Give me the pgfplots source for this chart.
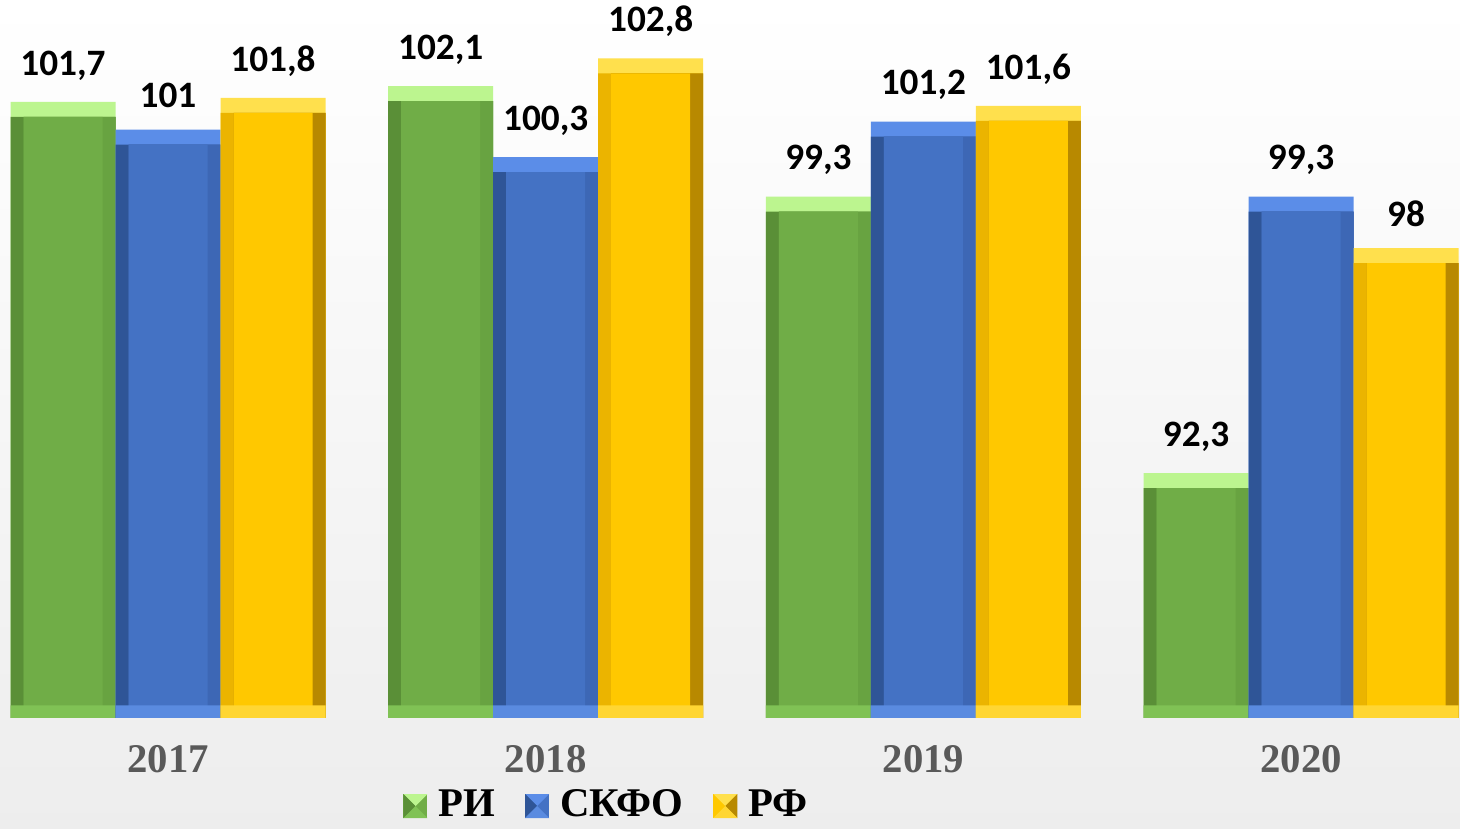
\documentclass[border=0pt]{standalone}
\usepackage{fontspec}
\setmainfont{Liberation Serif}
\newfontfamily\carlito{Carlito}
\usepackage{pgfplots}
\pgfplotsset{compat=1.18}
\usepackage{pgfplotstable}

\definecolor{gBase}{HTML}{70AD47}\definecolor{gTop}{HTML}{BCF58F}\definecolor{gLeft}{HTML}{5A8F37}\definecolor{gRight}{HTML}{68A341}\definecolor{gBot}{HTML}{80C255}
\definecolor{bBase}{HTML}{4472C4}\definecolor{bTop}{HTML}{5B8DE8}\definecolor{bLeft}{HTML}{2F5597}\definecolor{bRight}{HTML}{3D67B5}\definecolor{bBot}{HTML}{5A8BE0}
\definecolor{yBase}{HTML}{FFC800}\definecolor{yTop}{HTML}{FFE04D}\definecolor{yLeft}{HTML}{EBB400}\definecolor{yRight}{HTML}{B88900}\definecolor{yBot}{HTML}{FFD633}
\definecolor{yeargray}{HTML}{595959}

\pgfplotstableread{
x ri skfo rf
0 101.7 101.0 101.8
1 102.1 100.3 102.8
2 99.3 101.2 101.6
3 92.3 99.3 98.0
}\datatable

\begin{document}
\begin{tikzpicture}
\useasboundingbox (0,0) rectangle (14.6cm,8.29cm);
\shade[top color=white, bottom color=black!7] (0,0) rectangle (14.6cm,8.29cm);
\begin{axis}[
  at={(0,1.11cm)}, anchor=south west,
  width=14.6cm, height=7.18cm, scale only axis,
  xmin=-0.4448, xmax=3.4207, ymin=86.1, ymax=104.28,
  clip=false,
  ybar, bar width=1.05cm,
  axis line style={draw=none}, tick style={draw=none}, major tick length=0pt,
  ytick=\empty,
  xtick={0,1,2,3}, xticklabels={2017,2018,2019,2020},
  xticklabel style={font=\bfseries\fontsize{11.6}{13}\selectfont, text=yeargray, inner sep=0pt, yshift=-2.7mm},
  /pgf/number format/assume math mode=true,
  /pgf/number format/use comma,
  nodes near coords style={font=\carlito\bfseries\fontsize{10.6}{12}\selectfont, text=black, inner sep=0pt, yshift=2.1mm, anchor=south},
  legend style={at={(rel axis cs:0.4185,-0.1226)}, anchor=center, draw=none, fill=none,
    legend columns=-1, font=\bfseries\fontsize{11.6}{14}\selectfont,
    nodes={inner xsep=1.1mm},
    /tikz/every even column/.append style={column sep=1.9mm}},
]
% RI (green)
\addplot[draw=none, fill=gTop, bar shift=-1.05cm, nodes near coords,
  legend image code/.code={
    \fill[gBase] (0,-1.2mm) rectangle (2.4mm,1.2mm);
    \fill[gTop] (0,1.2mm) -- (2.4mm,1.2mm) -- (1.2mm,0) -- cycle;
    \fill[gLeft] (0,-1.2mm) -- (0,1.2mm) -- (1.2mm,0) -- cycle;
    \fill[gBot] (0,-1.2mm) -- (2.4mm,-1.2mm) -- (1.2mm,0) -- cycle;}]
  table[x=x, y=ri] \datatable;
\addlegendentry{РИ}
\addplot[forget plot, draw=none, fill=gLeft, bar shift=-1.05cm] table[x=x, y expr=\thisrow{ri}-0.38] \datatable;
\addplot[forget plot, draw=none, fill=gRight, bar width=0.92cm, bar shift=-0.985cm] table[x=x, y expr=\thisrow{ri}-0.38] \datatable;
\addplot[forget plot, draw=none, fill=gBase, bar width=0.79cm, bar shift=-1.05cm] table[x=x, y expr=\thisrow{ri}-0.38] \datatable;
\addplot[forget plot, draw=none, fill=gBot, bar shift=-1.05cm] coordinates {(0,86.42) (1,86.42) (2,86.42) (3,86.42)};
% SKFO (blue)
\addplot[draw=none, fill=bTop, bar shift=0cm, nodes near coords,
  legend image code/.code={
    \fill[bBase] (0,-1.2mm) rectangle (2.4mm,1.2mm);
    \fill[bTop] (0,1.2mm) -- (2.4mm,1.2mm) -- (1.2mm,0) -- cycle;
    \fill[bLeft] (0,-1.2mm) -- (0,1.2mm) -- (1.2mm,0) -- cycle;
    \fill[bBot] (0,-1.2mm) -- (2.4mm,-1.2mm) -- (1.2mm,0) -- cycle;}]
  table[x=x, y=skfo] \datatable;
\addlegendentry{СКФО}
\addplot[forget plot, draw=none, fill=bLeft, bar shift=0cm] table[x=x, y expr=\thisrow{skfo}-0.38] \datatable;
\addplot[forget plot, draw=none, fill=bRight, bar width=0.92cm, bar shift=0.065cm] table[x=x, y expr=\thisrow{skfo}-0.38] \datatable;
\addplot[forget plot, draw=none, fill=bBase, bar width=0.79cm, bar shift=0cm] table[x=x, y expr=\thisrow{skfo}-0.38] \datatable;
\addplot[forget plot, draw=none, fill=bBot, bar shift=0cm] coordinates {(0,86.42) (1,86.42) (2,86.42) (3,86.42)};
% RF (gold)
\addplot[draw=none, fill=yTop, bar shift=1.05cm, nodes near coords,
  legend image code/.code={
    \fill[yBase] (0,-1.2mm) rectangle (2.4mm,1.2mm);
    \fill[yTop] (0,1.2mm) -- (2.4mm,1.2mm) -- (1.2mm,0) -- cycle;
    \fill[yRight] (2.4mm,-1.2mm) -- (2.4mm,1.2mm) -- (1.2mm,0) -- cycle;
    \fill[yBot] (0,-1.2mm) -- (2.4mm,-1.2mm) -- (1.2mm,0) -- cycle;}]
  table[x=x, y=rf] \datatable;
\addlegendentry{РФ}
\addplot[forget plot, draw=none, fill=yLeft, bar shift=1.05cm] table[x=x, y expr=\thisrow{rf}-0.38] \datatable;
\addplot[forget plot, draw=none, fill=yRight, bar width=0.92cm, bar shift=1.115cm] table[x=x, y expr=\thisrow{rf}-0.38] \datatable;
\addplot[forget plot, draw=none, fill=yBase, bar width=0.79cm, bar shift=1.05cm] table[x=x, y expr=\thisrow{rf}-0.38] \datatable;
\addplot[forget plot, draw=none, fill=yBot, bar shift=1.05cm] coordinates {(0,86.42) (1,86.42) (2,86.42) (3,86.42)};
\end{axis}
\end{tikzpicture}
\end{document}
